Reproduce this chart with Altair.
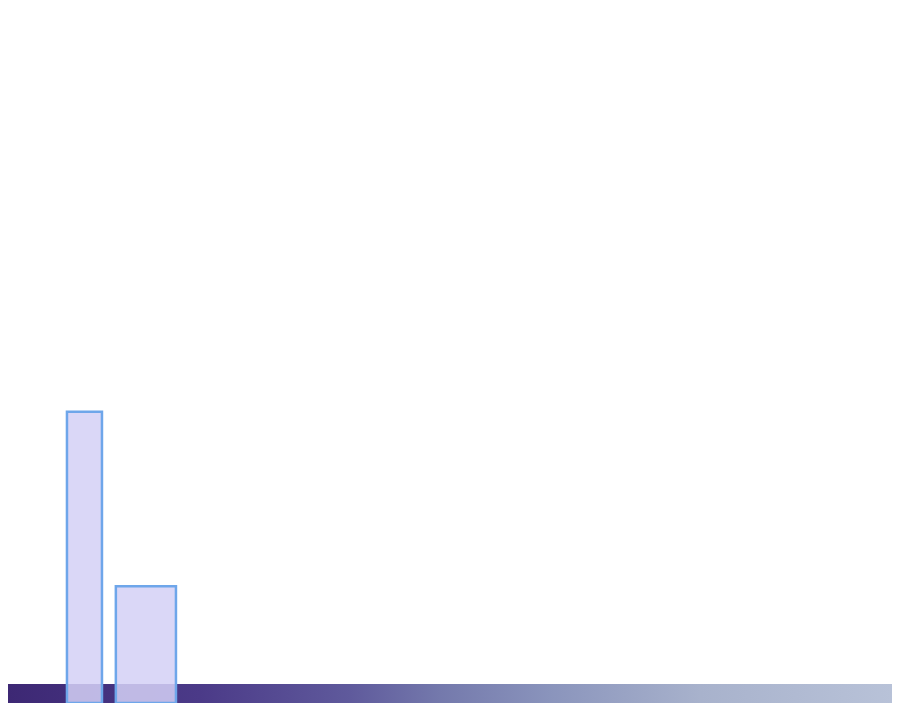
import altair as alt
import pandas as pd

# Bar data
categories = ["A", "B"]
bin_start = [6.67, 12.2]
bin_end = [10.63, 19.0]
values = [41.9, 16.8]

# Decorative band colours (left to right)
band_colors = ["#3d2874", "#4b3a88", "#5f5a9c", "#7479ac", "#8a94bc", "#a8b2cc", "#b8c2d8"]
band_offsets = [0.0, 0.217, 0.387, 0.489, 0.613, 0.783, 1.0]

W, H = 884, 695

bars = pd.DataFrame({"cat": categories, "x0": bin_start, "x1": bin_end, "v": values})

grad = alt.LinearGradient(
    gradient="linear",
    stops=[alt.GradientStop(color=c, offset=o) for c, o in zip(band_colors, band_offsets)],
    x1=0, x2=1, y1=0, y2=0,
)

band = alt.Chart(pd.DataFrame({"k": [0]})).mark_rect(color=grad).encode(
    x=alt.value(0), x2=alt.value(W), y=alt.value(H - 19), y2=alt.value(H)
)

xs = alt.Scale(domain=[0, 100], nice=False, zero=False)
ys = alt.Scale(domain=[0, 100], nice=False)

bar_layer = alt.Chart(bars).mark_rect(
    fill="#d4d1f6", fillOpacity=0.86, stroke="#6ea6ea", strokeWidth=2.5
).encode(
    x=alt.X("x0:Q", scale=xs, axis=None),
    x2="x1:Q",
    y=alt.Y("v:Q", scale=ys, axis=None),
    y2=alt.datum(0),
)

chart = alt.layer(band, bar_layer).properties(
    width=W, height=H, padding=0, autosize="none"
).configure_view(stroke=None)

chart.save("out.html", embed_options={"renderer": "svg", "actions": False})
